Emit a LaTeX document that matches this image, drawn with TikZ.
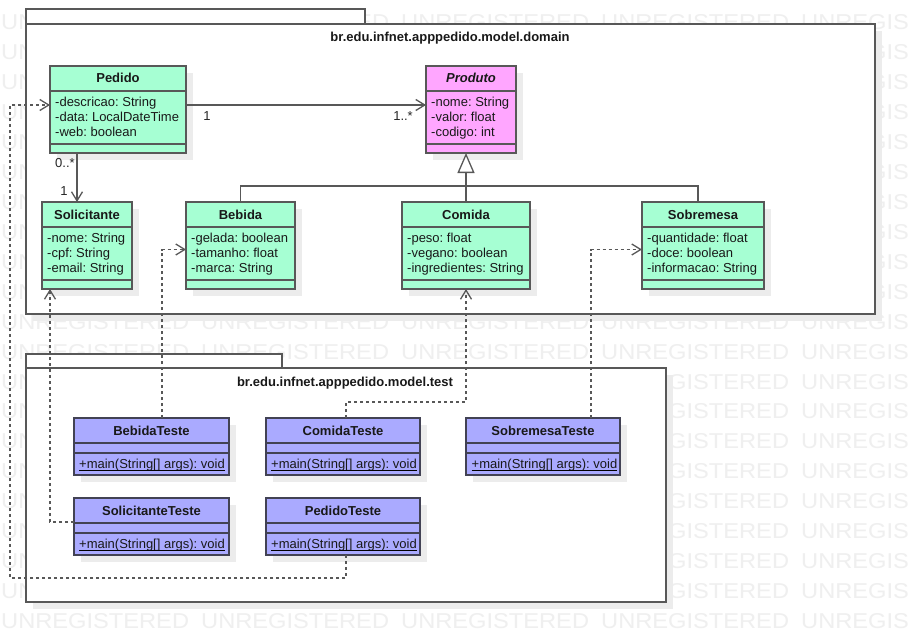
\documentclass[tikz,border=0pt]{standalone}
\usepackage{fontspec}
\usepackage{graphicx}
\setmainfont{Liberation Sans}
\usetikzlibrary{arrows.meta,calc}
\definecolor{clsgreen}{RGB}{166,255,211}
\definecolor{clspink}{RGB}{255,166,255}
\definecolor{clsblue}{RGB}{170,170,255}
\definecolor{shadowc}{RGB}{236,236,236}
\definecolor{wmc}{RGB}{239,239,239}
\definecolor{edgec}{RGB}{88,88,88}
\definecolor{bluedge}{RGB}{66,66,84}
\newcommand\wms[1]{\scalebox{1.1}[1]{#1}}
\newcommand\wmword{\makebox[200pt][l]{\wms{UNREGISTERED}}}
\newcommand\wmrow{\wmword\wmword\wmword\wmword\wms{UNREGIS}}
\newcommand\umlbox[7]{% name, x, y, w, h, fill, edge
  \fill[shadowc] (#2+7,#3+7) rectangle ++(#4,#5);
  \node[clsbox, fill=#6, draw=#7, minimum width=#4pt, minimum height=#5pt] (#1) at (#2,#3) {};
}
\newcommand\sepline[3]{\draw[draw=#3, line width=1.3pt] (#1.west |- 0,#2) -- (#1.east |- 0,#2);}
\tikzset{
  clsbox/.style={line width=1.3pt, inner sep=0pt, outer sep=0pt, anchor=north west},
  namet/.style={font=\bfseries\fontsize{13}{15}\selectfont, inner sep=0pt, anchor=base, text=black!90},
  attrt/.style={font=\fontsize{13}{15}\selectfont, inner sep=0pt, anchor=base west, text=black!90},
  lblt/.style={font=\fontsize{13}{15}\selectfont, inner sep=0pt, text=black!85},
  pkgbox/.style={draw=edgec, line width=1.5pt, fill=white, inner sep=0pt, outer sep=0pt, anchor=north west},
  pkgtitle/.style={font=\bfseries\fontsize{13}{15}\selectfont, inner sep=0pt, anchor=base, text=black!90},
  wm/.style={font=\fontsize{21.5}{24}\selectfont, text=wmc, inner sep=0pt, anchor=base west},
  assoc/.style={draw=edgec, line width=1.3pt, -{Straight Barb[length=9pt,width=11pt,line width=1.3pt]}},
  genl/.style={draw=edgec, line width=1.3pt},
  gen/.style={draw=edgec, line width=1.3pt, -{Triangle[open,length=20pt,width=17pt,line width=1.3pt,fill=white]}},
  dep/.style={draw=edgec, line width=1.3pt, dash pattern=on 3pt off 3pt, -{Straight Barb[length=9pt,width=11pt,line width=1.3pt]}},
}
\begin{document}
\frenchspacing
\begin{tikzpicture}[x=1pt,y=-1pt]
\useasboundingbox (0,0) rectangle (914,642);
\fill[white] (0,0) rectangle (914,642);
% ---------- watermark (only the visible parts) ----------
\foreach \k in {0,10,11,20} {
  \node[wm] (wmrow\k) at (1,29.6+29.95*\k) {\wmrow};
}
\foreach \k in {1,...,9} {
  \node[wm] (wmL\k) at (1,29.6+29.95*\k) {\wms{UN}};
  \node[wm] (wmR\k) at (868,29.6+29.95*\k) {\wms{GIS}};
}
\foreach \k in {12,...,19} {
  \node[wm] (wmL\k) at (1,29.6+29.95*\k) {\wms{UN}};
  \node[wm] (wmM\k) at (652.2,29.6+29.95*\k) {\wms{EGISTERED}};
  \node[wm] (wmR\k) at (801,29.6+29.95*\k) {\wms{UNREGIS}};
}
% ---------- domain package ----------
\fill[shadowc] (33,31) rectangle (882,321);
\draw[pkgbox] (26,9) rectangle (365,24);
\node[pkgbox, minimum width=849pt, minimum height=290pt] (domain) at (26,24) {};
\node[pkgtitle] (domaintitle) at (450,42) {br.edu.infnet.apppedido.model.domain};
% ---------- test package ----------
\fill[shadowc] (33,375) rectangle (673,609);
\draw[pkgbox] (26,354) rectangle (282,368);
\node[pkgbox, minimum width=640pt, minimum height=234pt] (testpkg) at (26,368) {};
\node[pkgtitle] (testtitle) at (345,386) {br.edu.infnet.apppedido.model.test};
% ---------- domain classes ----------
\umlbox{pedido}{50}{66}{136}{87}{clsgreen}{edgec}
\sepline{pedido}{91}{edgec}\sepline{pedido}{144}{edgec}
\node[namet] (pedidoN) at (118,83) {Pedido};
\node[attrt] (pedidoA1) at (55,106.5) {-descricao: String};
\node[attrt] (pedidoA2) at (55,121.5) {-data: LocalDateTime};
\node[attrt] (pedidoA3) at (55,136.5) {-web: boolean};

\umlbox{produto}{426}{66}{90}{87}{clspink}{edgec}
\sepline{produto}{91}{edgec}\sepline{produto}{144}{edgec}
\node[namet, font=\bfseries\itshape\fontsize{13}{15}\selectfont] (produtoN) at (471,83) {Produto};
\node[attrt] (produtoA1) at (431,106.5) {-nome: String};
\node[attrt] (produtoA2) at (431,121.5) {-valor: float};
\node[attrt] (produtoA3) at (431,136.5) {-codigo: int};

\umlbox{solicitante}{42}{202}{90}{87}{clsgreen}{edgec}
\sepline{solicitante}{227}{edgec}\sepline{solicitante}{280}{edgec}
\node[namet] (solicitanteN) at (87,219) {Solicitante};
\node[attrt] (solicitanteA1) at (47,242.5) {-nome: String};
\node[attrt] (solicitanteA2) at (47,257.5) {-cpf: String};
\node[attrt] (solicitanteA3) at (47,272.5) {-email: String};

\umlbox{bebida}{186}{202}{109}{87}{clsgreen}{edgec}
\sepline{bebida}{227}{edgec}\sepline{bebida}{280}{edgec}
\node[namet] (bebidaN) at (240.5,219) {Bebida};
\node[attrt] (bebidaA1) at (191,242.5) {-gelada: boolean};
\node[attrt] (bebidaA2) at (191,257.5) {-tamanho: float};
\node[attrt] (bebidaA3) at (191,272.5) {-marca: String};

\umlbox{comida}{402}{202}{128}{87}{clsgreen}{edgec}
\sepline{comida}{227}{edgec}\sepline{comida}{280}{edgec}
\node[namet] (comidaN) at (466,219) {Comida};
\node[attrt] (comidaA1) at (407,242.5) {-peso: float};
\node[attrt] (comidaA2) at (407,257.5) {-vegano: boolean};
\node[attrt] (comidaA3) at (407,272.5) {-ingredientes: String};

\umlbox{sobremesa}{642}{202}{122}{87}{clsgreen}{edgec}
\sepline{sobremesa}{227}{edgec}\sepline{sobremesa}{280}{edgec}
\node[namet] (sobremesaN) at (703,219) {Sobremesa};
\node[attrt] (sobremesaA1) at (647,242.5) {-quantidade: float};
\node[attrt] (sobremesaA2) at (647,257.5) {-doce: boolean};
\node[attrt] (sobremesaA3) at (647,272.5) {-informacao: String};

% ---------- test classes ----------
\umlbox{bebidateste}{74}{418}{155}{57}{clsblue}{bluedge}
\sepline{bebidateste}{443}{bluedge}\sepline{bebidateste}{453}{bluedge}
\node[namet] (bebidatesteN) at (151.5,435) {BebidaTeste};
\node[attrt] (bebidatesteO) at (79,468.5) {+main(String[] args): void};
\draw[line width=0.9pt] ([yshift=-2pt]bebidatesteO.base west) -- ([yshift=-2pt]bebidatesteO.base east);

\umlbox{comidateste}{266}{418}{154}{57}{clsblue}{bluedge}
\sepline{comidateste}{443}{bluedge}\sepline{comidateste}{453}{bluedge}
\node[namet] (comidatesteN) at (343,435) {ComidaTeste};
\node[attrt] (comidatesteO) at (271,468.5) {+main(String[] args): void};
\draw[line width=0.9pt] ([yshift=-2pt]comidatesteO.base west) -- ([yshift=-2pt]comidatesteO.base east);

\umlbox{sobremesateste}{466}{418}{154}{57}{clsblue}{bluedge}
\sepline{sobremesateste}{443}{bluedge}\sepline{sobremesateste}{453}{bluedge}
\node[namet] (sobremesatesteN) at (543,435) {SobremesaTeste};
\node[attrt] (sobremesatesteO) at (471.5,468.5) {+main(String[] args): void};
\draw[line width=0.9pt] ([yshift=-2pt]sobremesatesteO.base west) -- ([yshift=-2pt]sobremesatesteO.base east);

\umlbox{solicitanteteste}{74}{498}{155}{57}{clsblue}{bluedge}
\sepline{solicitanteteste}{523}{bluedge}\sepline{solicitanteteste}{533}{bluedge}
\node[namet] (solicitantetesteN) at (151.5,515) {SolicitanteTeste};
\node[attrt] (solicitantetesteO) at (79,548.5) {+main(String[] args): void};
\draw[line width=0.9pt] ([yshift=-2pt]solicitantetesteO.base west) -- ([yshift=-2pt]solicitantetesteO.base east);

\umlbox{pedidoteste}{266}{498}{154}{57}{clsblue}{bluedge}
\sepline{pedidoteste}{523}{bluedge}\sepline{pedidoteste}{533}{bluedge}
\node[namet] (pedidotesteN) at (343,515) {PedidoTeste};
\node[attrt] (pedidotesteO) at (271,548.5) {+main(String[] args): void};
\draw[line width=0.9pt] ([yshift=-2pt]pedidotesteO.base west) -- ([yshift=-2pt]pedidotesteO.base east);

% ---------- associations ----------
\draw[assoc] (pedido.east |- 0,105) -- (produto.west |- 0,105);
\node[lblt, anchor=base] (l1) at (207,121) {1};
\node[lblt, anchor=base east] (l2) at (413,121) {1..*};
\draw[assoc] (pedido.south -| 77,0) -- (solicitante.north -| 77,0);
\node[lblt, anchor=base west] (l3) at (55,167) {0..*};
\node[lblt, anchor=base] (l4) at (64,195) {1};

% ---------- generalization ----------
\draw[genl] (bebida.north) |- ($(sobremesa.north west)+(56,-16)$) -- ($(sobremesa.north west)+(56,0)$);
\draw[gen] (comida.north -| 466,0) -- (produto.south -| 466,0);

% ---------- dependencies ----------
\draw[dep] (pedidoteste.south -| 346,0) |- (10,578) |- (pedido.west |- 0,105);
\draw[dep] (solicitanteteste.west |- 0,522) -| (solicitante.south -| 50,0);
\draw[dep] (bebidateste.north -| 162,0) |- (bebida.west |- 0,249.5);
\draw[dep] (comidateste.north -| 346,0) -- (346,402) -| (comida.south -| 466,0);
\draw[dep] (sobremesateste.north -| 591,0) |- (sobremesa.west |- 0,249.5);
\end{tikzpicture}
\end{document}
